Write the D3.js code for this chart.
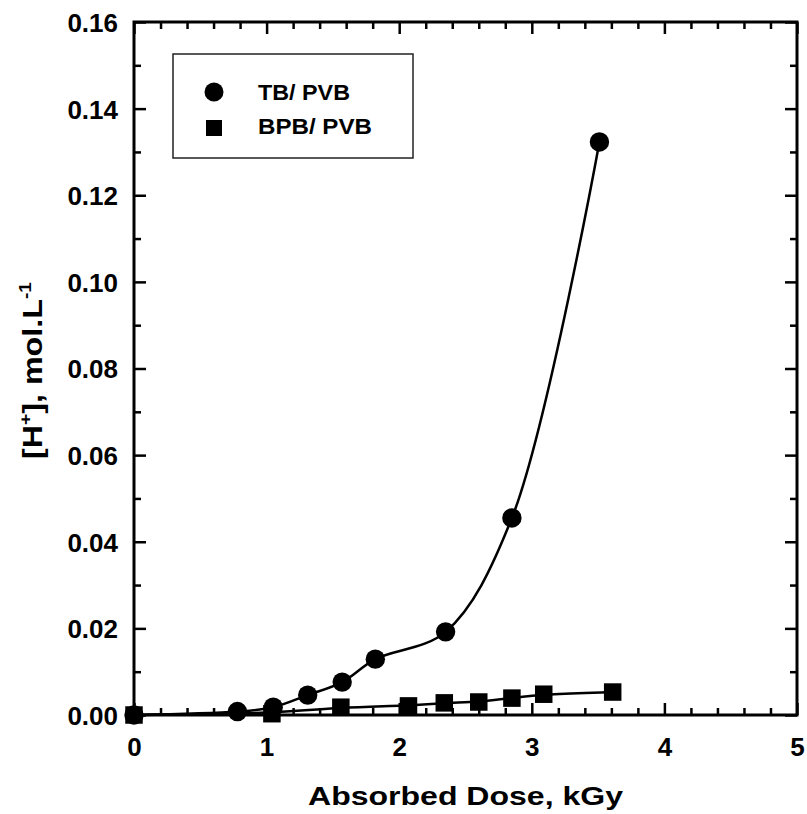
<!DOCTYPE html>
<html>
<head>
<meta charset="utf-8">
<script src="https://cdn.jsdelivr.net/npm/d3@7"></script>
<style>
  body { margin: 0; background: #fff; }
  svg { font-family: "Liberation Sans", Arial, Helvetica, sans-serif; font-weight: bold; }
</style>
</head>
<body>
<svg id="chart" width="807" height="814"></svg>
<script>
// TB/PVB series (circles)
var tbDose = [0, 0.78, 1.05, 1.31, 1.57, 1.82, 2.35, 2.85, 3.51];
var tbConc = [0, 0.0008, 0.0018, 0.0046, 0.0076, 0.0129, 0.0192, 0.0455, 0.1323];
// BPB/PVB series (squares)
var bpbDose = [0, 1.04, 1.56, 2.07, 2.34, 2.60, 2.85, 3.09, 3.61];
var bpbConc = [0, 0.0003, 0.0018, 0.0021, 0.0028, 0.0030, 0.0039, 0.0048, 0.0053];

var xTicks = [0, 1, 2, 3, 4, 5];
var yTicks = [0, 0.02, 0.04, 0.06, 0.08, 0.10, 0.12, 0.14, 0.16];
var seriesNames = ["TB/ PVB", "BPB/ PVB"];

var margin = {top: 22, right: 10, bottom: 99, left: 134},
    width = 807 - margin.left - margin.right,
    height = 814 - margin.top - margin.bottom;

var svg = d3.select("#chart")
  .append("g")
    .attr("transform", "translate(" + margin.left + "," + margin.top + ")");

var x = d3.scaleLinear().domain([0, 5]).range([0, width]);
var y = d3.scaleLinear().domain([0, 0.16]).range([height, 0]);

var xMinor = d3.range(0, 5.001, 0.2).filter(function(d) { return Math.abs(d - Math.round(d)) > 1e-6; });
var yMinor = d3.range(0, 0.1601, 0.01).filter(function(d) { return Math.abs(d * 50 - Math.round(d * 50)) > 1e-6; });

function styleAxis(g) {
  g.select(".domain").remove();
  g.selectAll("line").attr("stroke", "#000").attr("stroke-width", 2.5);
}

// bottom axis with labels
svg.append("g")
  .attr("transform", "translate(0," + height + ")")
  .call(d3.axisBottom(x).tickValues(xTicks).tickSize(-12).tickFormat(d3.format("d")))
  .call(styleAxis)
  .selectAll("text")
    .attr("y", 41).attr("dy", 0)
    .style("font-size", "26px").style("font-family", "inherit").attr("fill", "#000");
svg.append("g")
  .attr("transform", "translate(0," + height + ")")
  .call(d3.axisBottom(x).tickValues(xMinor).tickSize(-7).tickFormat(""))
  .call(styleAxis);

// top axis (ticks only)
svg.append("g")
  .call(d3.axisTop(x).tickValues(xTicks).tickSize(-12).tickFormat(""))
  .call(styleAxis);
svg.append("g")
  .call(d3.axisTop(x).tickValues(xMinor).tickSize(-7).tickFormat(""))
  .call(styleAxis);

// left axis with labels
svg.append("g")
  .call(d3.axisLeft(y).tickValues(yTicks).tickSize(-12).tickFormat(d3.format(".2f")))
  .call(styleAxis)
  .selectAll("text")
    .attr("x", -16).attr("dy", "0.36em")
    .style("font-size", "26px").style("font-family", "inherit").attr("fill", "#000");
svg.append("g")
  .call(d3.axisLeft(y).tickValues(yMinor).tickSize(-7).tickFormat(""))
  .call(styleAxis);

// right axis (ticks only)
svg.append("g")
  .attr("transform", "translate(" + width + ",0)")
  .call(d3.axisRight(y).tickValues(yTicks).tickSize(-12).tickFormat(""))
  .call(styleAxis);
svg.append("g")
  .attr("transform", "translate(" + width + ",0)")
  .call(d3.axisRight(y).tickValues(yMinor).tickSize(-7).tickFormat(""))
  .call(styleAxis);

// frame
svg.append("rect")
  .attr("x", 0).attr("y", 0)
  .attr("width", width).attr("height", height)
  .attr("fill", "none").attr("stroke", "#000").attr("stroke-width", 3);

// curves
var tbLine = d3.line()
  .x(function(d) { return x(d[0]); })
  .y(function(d) { return y(d[1]); })
  .curve(d3.curveCatmullRom.alpha(0.5));
var bpbLine = d3.line()
  .x(function(d) { return x(d[0]); })
  .y(function(d) { return y(d[1]); })
  .curve(d3.curveBasis);

var tbData = tbDose.map(function(d, i) { return [d, tbConc[i]]; });
var bpbData = bpbDose.map(function(d, i) { return [d, bpbConc[i]]; });

svg.append("path").datum(tbData)
  .attr("d", tbLine).attr("fill", "none").attr("stroke", "#000").attr("stroke-width", 2.5);
svg.append("path").datum(bpbData)
  .attr("d", bpbLine).attr("fill", "none").attr("stroke", "#000").attr("stroke-width", 2.5);

svg.selectAll(".sq")
  .data(bpbData)
  .enter()
  .append("rect")
    .attr("x", function(d) { return x(d[0]) - 8.75; })
    .attr("y", function(d) { return y(d[1]) - 8.75; })
    .attr("width", 17.5).attr("height", 17.5)
    .attr("fill", "#000");

svg.selectAll(".dot")
  .data(tbData)
  .enter()
  .append("circle")
    .attr("cx", function(d) { return x(d[0]); })
    .attr("cy", function(d) { return y(d[1]); })
    .attr("r", 9.7)
    .attr("fill", "#000");

// legend
var legend = d3.select("#chart").append("g");
legend.append("rect")
  .attr("x", 173).attr("y", 54).attr("width", 240).attr("height", 104)
  .attr("fill", "#fff").attr("stroke", "#222").attr("stroke-width", 1.5);
legend.append("circle").attr("cx", 214).attr("cy", 92).attr("r", 9.5).attr("fill", "#000");
legend.append("rect").attr("x", 206).attr("y", 120).attr("width", 16).attr("height", 16).attr("fill", "#000");
legend.append("text").attr("x", 258).attr("y", 100)
  .attr("textLength", 92).attr("lengthAdjust", "spacingAndGlyphs")
  .style("font-size", "22px").text(seriesNames[0]);
legend.append("text").attr("x", 258).attr("y", 134)
  .attr("textLength", 114).attr("lengthAdjust", "spacingAndGlyphs")
  .style("font-size", "22px").text(seriesNames[1]);

// axis titles
d3.select("#chart").append("text")
  .attr("x", 308).attr("y", 805)
  .attr("textLength", 315).attr("lengthAdjust", "spacingAndGlyphs")
  .style("font-size", "25px")
  .text("Absorbed Dose, kGy");

var yTitle = d3.select("#chart").append("text")
  .attr("transform", "translate(42,459) rotate(-90)")
  .attr("textLength", 177).attr("lengthAdjust", "spacingAndGlyphs")
  .style("font-size", "27px");
yTitle.append("tspan").text("[H");
yTitle.append("tspan").attr("dy", -11).style("font-size", "16px").text("+");
yTitle.append("tspan").attr("dy", 11).text("], mol.L");
yTitle.append("tspan").attr("dy", -11).style("font-size", "16px").text("-1");
</script>
</body>
</html>
